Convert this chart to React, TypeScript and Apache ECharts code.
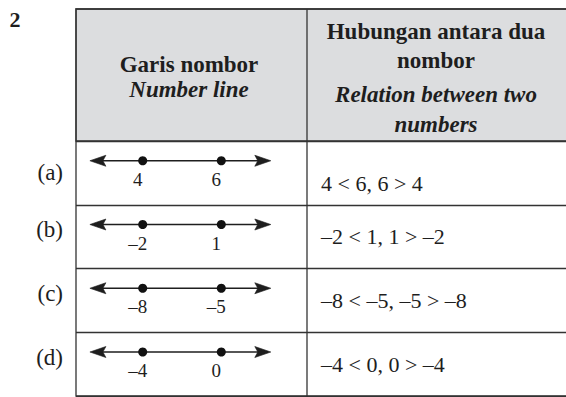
import React, { useEffect, useRef } from "react";
import * as echarts from "echarts";

// ---- data ----
const QUESTION_NO = "2";
const ROW_LABELS = ["(a)", "(b)", "(c)", "(d)"];
const SMALLER = [4, -2, -8, -4];
const LARGER = [6, 1, -5, 0];
const DOT_SLOTS = [1, 2];
const ARROW_ENDS = [0.43, 2.528];
const HEADER_LEFT_MS = "Garis nombor";
const HEADER_LEFT_EN = "Number line";
const HEADER_RIGHT_MS = ["Hubungan antara dua", "nombor"];
const HEADER_RIGHT_EN = ["Relation between two", "numbers"];

const SERIF = "Liberation Serif, Times New Roman, serif";
const INK = "#1e1e1e";
const RULE = "#333";
const ARROW_HEAD = "path://M6,0L12,16L6,13L0,16Z";

const fmt = (n: number) => (n < 0 ? "\u2013" + Math.abs(n) : String(n));
const RELATIONS = SMALLER.map(
  (a, i) => `${fmt(a)} < ${fmt(LARGER[i])}, ${fmt(LARGER[i])} > ${fmt(a)}`
);

export default function App() {
  const ref = useRef<HTMLDivElement>(null);

  useEffect(() => {
    if (!ref.current) return;
    const chart = echarts.init(ref.current, undefined, { renderer: "svg" });

    const headerText = (
      text: string,
      x: number,
      y: number,
      italic: boolean
    ) => ({
      type: "text",
      x,
      y,
      z: 10,
      style: {
        text,
        fill: INK,
        fontFamily: SERIF,
        fontSize: 23,
        fontWeight: "bold",
        fontStyle: italic ? "italic" : "normal",
        align: "center",
        verticalAlign: "middle",
      },
    });

    const lineSeries = SMALLER.map((_, i) => ({
      type: "line",
      xAxisIndex: 1,
      yAxisIndex: 2,
      silent: true,
      symbol: ARROW_HEAD,
      symbolSize: [11, 16],
      showSymbol: true,
      lineStyle: { color: INK, width: 1.5 },
      itemStyle: { color: INK, opacity: 1, borderColor: INK, borderWidth: 0.6 },
      z: 4,
      data: [
        { value: [ARROW_ENDS[0], i], symbolRotate: 90 },
        { value: [ARROW_ENDS[1], i], symbolRotate: -90 },
      ],
    }));

    const dotData: any[] = [];
    SMALLER.forEach((a, i) => {
      dotData.push([DOT_SLOTS[0], i, a]);
      dotData.push([DOT_SLOTS[1], i, LARGER[i]]);
    });

    chart.setOption({
      animation: false,
      backgroundColor: "#fff",
      grid: [
        { left: 76, right: 0, top: 141, height: 255 },
        { left: 64.1, width: 235.8, top: 141, height: 255 },
      ],
      xAxis: [
        { gridIndex: 0, type: "value", show: false, min: 0, max: 1 },
        { gridIndex: 1, type: "value", show: false, min: 0, max: 3 },
      ],
      yAxis: [
        {
          gridIndex: 0,
          type: "category",
          data: ROW_LABELS,
          inverse: true,
          position: "left",
          axisLine: { show: false },
          axisTick: { show: false },
          splitLine: { show: true, lineStyle: { color: RULE, width: 1.3 } },
          axisLabel: {
            interval: 0,
            margin: 13,
            color: INK,
            fontFamily: SERIF,
            fontSize: 23,
            lineHeight: 14,
            formatter: (v: string, i: number) => (i === 0 ? v : v + "\n"),
          },
        },
        {
          gridIndex: 0,
          type: "category",
          data: RELATIONS,
          inverse: true,
          position: "right",
          offset: -245,
          axisLine: { show: false },
          axisTick: { show: false },
          splitLine: { show: false },
          axisLabel: {
            interval: 0,
            margin: 0,
            align: "left",
            color: INK,
            fontFamily: SERIF,
            fontSize: 22,
            lineHeight: 21,
            padding: [4, 0, 0, 0],
            formatter: (v: string, i: number) => (i === 0 ? "\n" + v : v),
          },
        },
        {
          gridIndex: 1,
          type: "value",
          show: false,
          min: -0.31,
          max: 3.69,
          inverse: true,
        },
      ],
      graphic: [
        {
          type: "rect",
          z: 0,
          shape: { x: 76, y: 9, width: 495, height: 132 },
          style: { fill: "#dcdddf", stroke: RULE, lineWidth: 1.3 },
        },
        {
          type: "rect",
          z: 5,
          shape: { x: 76, y: 9, width: 495, height: 387 },
          style: { fill: "none", stroke: RULE, lineWidth: 1.3 },
        },
        {
          type: "line",
          z: 5,
          shape: { x1: 307, y1: 9, x2: 307, y2: 396 },
          style: { stroke: RULE, lineWidth: 1.3 },
        },
        {
          type: "text",
          x: 15,
          y: 19,
          z: 10,
          style: {
            text: QUESTION_NO,
            fill: INK,
            fontFamily: SERIF,
            fontSize: 22,
            fontWeight: "bold",
            align: "center",
            verticalAlign: "middle",
          },
        },
        headerText(HEADER_LEFT_MS, 189, 64, false),
        headerText(HEADER_LEFT_EN, 189, 89, true),
        headerText(HEADER_RIGHT_MS[0], 436, 31.5, false),
        headerText(HEADER_RIGHT_MS[1], 436, 60.5, false),
        headerText(HEADER_RIGHT_EN[0], 436, 94, true),
        headerText(HEADER_RIGHT_EN[1], 436, 124, true),
      ],
      series: [
        ...lineSeries,
        {
          type: "scatter",
          xAxisIndex: 1,
          yAxisIndex: 2,
          silent: true,
          symbol: "circle",
          symbolSize: 9,
          itemStyle: { color: "#111", opacity: 1 },
          z: 5,
          data: dotData,
          label: {
            show: true,
            position: "inside",
            offset: [-5, 18.5],
            color: INK,
            opacity: 1,
            fontFamily: SERIF,
            fontSize: 19,
            formatter: (p: any) => fmt(p.value[2]),
          },
        },
      ],
    });

    return () => chart.dispose();
  }, []);

  return (
    <div
      ref={ref}
      style={{
        position: "fixed",
        left: 0,
        top: 0,
        width: 566,
        height: 397,
        background: "#fff",
      }}
    />
  );
}
